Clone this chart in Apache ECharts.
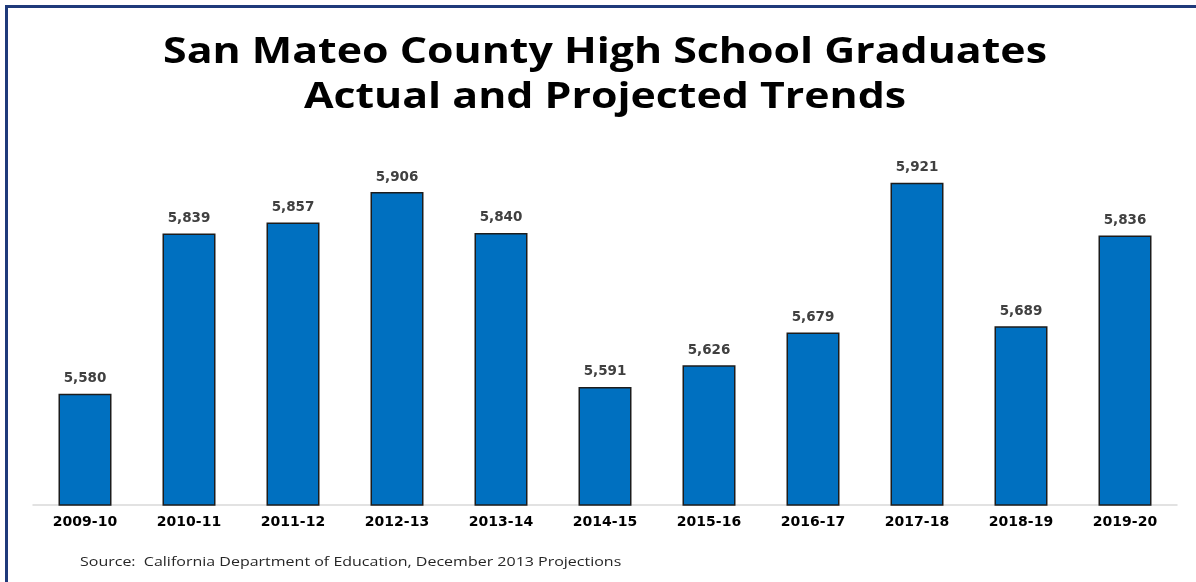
<!DOCTYPE html>
<html>
<head>
<meta charset="utf-8">
<script src="https://cdn.jsdelivr.net/npm/echarts@6/dist/echarts.min.js"></script>
<style>html,body{margin:0;padding:0;background:#fff}#c{width:1196px;height:582px}</style>
</head>
<body>
<div id="c"></div>
<script>
const categories = ['2009-10','2010-11','2011-12','2012-13','2013-14','2014-15','2015-16','2016-17','2017-18','2018-19','2019-20'];
const graduates = [5580, 5839, 5857, 5906, 5840, 5591, 5626, 5679, 5921, 5689, 5836];
const titleLines = ['San Mateo County High School Graduates', 'Actual and Projected Trends'];
const sourceText = 'Source:  California Department of Education, December 2013 Projections';

const chart = echarts.init(document.getElementById('c'));
const titleFont = 'bold 36px "Open Sans"';
chart.setOption({
  animation: false,
  backgroundColor: '#fff',
  graphic: [
    { type: 'line', shape: { x1: 6, y1: 6.5, x2: 1196, y2: 6.5 }, style: { stroke: '#1F3A7A', lineWidth: 3 } },
    { type: 'line', shape: { x1: 6.5, y1: 5, x2: 6.5, y2: 582 }, style: { stroke: '#1F3A7A', lineWidth: 3 } },
    { type: 'text', x: 605, y: 35, scaleX: 1.19, style: { text: titleLines[0], font: titleFont, fill: '#000', textAlign: 'center', textVerticalAlign: 'top' } },
    { type: 'text', x: 605, y: 80, scaleX: 1.19, style: { text: titleLines[1], font: titleFont, fill: '#000', textAlign: 'center', textVerticalAlign: 'top' } },
    { type: 'text', x: 80, y: 556, scaleX: 1.23, style: { text: sourceText, font: '13px "Open Sans"', fill: '#262626', textVerticalAlign: 'top' } }
  ],
  grid: { left: 33, right: 19, top: 134, bottom: 77 },
  xAxis: {
    type: 'category',
    data: categories,
    axisLine: { show: true, lineStyle: { color: '#d9d9d9', width: 1.5 } },
    axisTick: { show: false },
    axisLabel: { margin: 10, fontFamily: 'DejaVu Sans', fontWeight: 'bold', fontSize: 14, color: '#000' }
  },
  yAxis: {
    type: 'value', min: 5400, max: 6000,
    show: false,
    splitLine: { show: false }
  },
  series: [{
    type: 'bar',
    data: graduates,
    barWidth: 53,
    itemStyle: { color: '#0070C0', borderColor: '#1c1c1c', borderWidth: 1.5 },
    label: {
      show: true, position: 'top', distance: 8,
      fontFamily: 'DejaVu Sans', fontWeight: 'bold', fontSize: 13.5, color: '#404040',
      formatter: p => p.value.toLocaleString('en-US')
    }
  }]
});
</script>
</body>
</html>
